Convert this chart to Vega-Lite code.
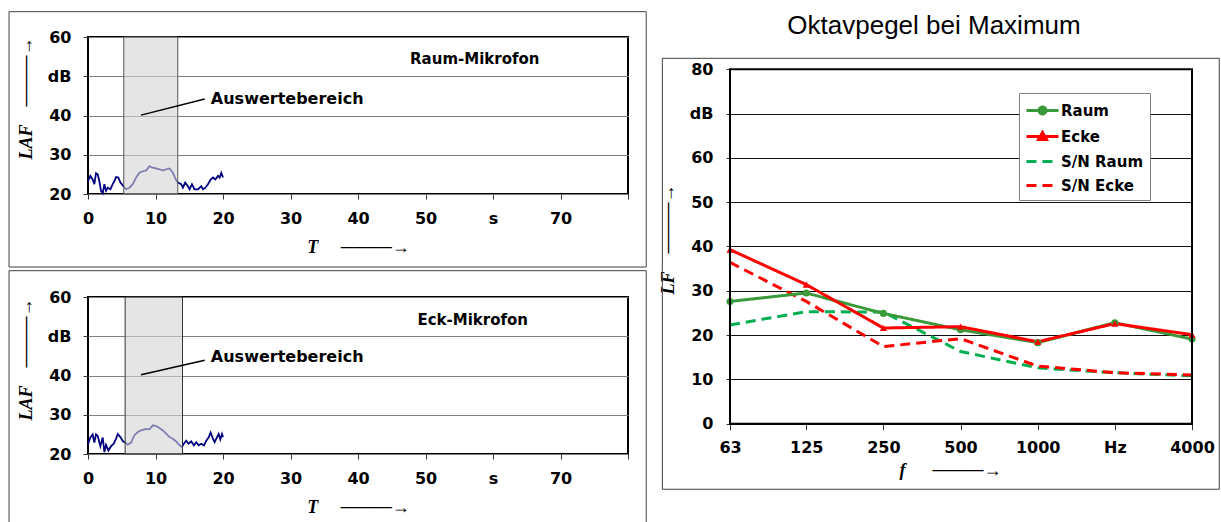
{
  "$schema": "https://vega.github.io/schema/vega-lite/v6.json",
  "background": "white",
  "padding": {"left": 7, "top": 10, "right": 0, "bottom": 0},
  "columns": 2,
  "align": "none",
  "spacing": 10,
  "datasets": {
    "raum": [
      {"T": 0, "L": 23.3}, {"T": 0.35, "L": 24.6}, {"T": 0.69, "L": 23.7}, {"T": 0.94, "L": 22.5}, {"T": 1.19, "L": 25.3},
      {"T": 1.44, "L": 25.0}, {"T": 1.68, "L": 23.3}, {"T": 1.93, "L": 20.8}, {"T": 2.18, "L": 20.2}, {"T": 2.43, "L": 22.5},
      {"T": 2.67, "L": 20.8}, {"T": 2.92, "L": 21.6}, {"T": 3.32, "L": 21.2}, {"T": 3.66, "L": 22.5}, {"T": 3.91, "L": 23.3},
      {"T": 4.16, "L": 24.3}, {"T": 4.5, "L": 24.2}, {"T": 4.8, "L": 22.9}, {"T": 5.15, "L": 22.2}, {"T": 5.4, "L": 21.6},
      {"T": 5.64, "L": 21.2}, {"T": 6.14, "L": 21.6}, {"T": 6.63, "L": 22.5}, {"T": 7.13, "L": 24.2}, {"T": 7.62, "L": 25.4},
      {"T": 8.12, "L": 25.8}, {"T": 8.61, "L": 26.0}, {"T": 9.11, "L": 27.1}, {"T": 9.6, "L": 26.7}, {"T": 10.1, "L": 26.5},
      {"T": 10.59, "L": 26.3}, {"T": 11.09, "L": 26.0}, {"T": 11.58, "L": 26.3}, {"T": 12.08, "L": 26.5}, {"T": 12.57, "L": 25.4},
      {"T": 13.07, "L": 23.5}, {"T": 13.32, "L": 22.9}, {"T": 13.81, "L": 22.5}, {"T": 14.06, "L": 21.6}, {"T": 14.4, "L": 22.9},
      {"T": 14.8, "L": 22.0}, {"T": 15.05, "L": 21.2}, {"T": 15.4, "L": 22.5}, {"T": 15.79, "L": 21.2}, {"T": 16.29, "L": 21.2},
      {"T": 16.78, "L": 22.0}, {"T": 17.03, "L": 21.2}, {"T": 17.38, "L": 21.6}, {"T": 17.77, "L": 22.5}, {"T": 18.17, "L": 23.7},
      {"T": 18.51, "L": 24.2}, {"T": 18.86, "L": 23.7}, {"T": 19.26, "L": 24.6}, {"T": 19.5, "L": 24.2}, {"T": 19.75, "L": 25.4},
      {"T": 20, "L": 24.2}
    ],
    "eck": [
      {"T": 0, "L": 22.5}, {"T": 0.35, "L": 24.2}, {"T": 0.69, "L": 25.0}, {"T": 0.94, "L": 22.9}, {"T": 1.19, "L": 25.0},
      {"T": 1.44, "L": 24.6}, {"T": 1.83, "L": 22.0}, {"T": 2.18, "L": 24.2}, {"T": 2.43, "L": 20.5}, {"T": 2.67, "L": 22.3},
      {"T": 3.02, "L": 20.9}, {"T": 3.42, "L": 22.0}, {"T": 3.81, "L": 22.6}, {"T": 4.16, "L": 23.9}, {"T": 4.41, "L": 25.1},
      {"T": 4.8, "L": 24.3}, {"T": 5.15, "L": 23.3}, {"T": 5.5, "L": 22.9}, {"T": 5.89, "L": 22.4}, {"T": 6.39, "L": 22.9},
      {"T": 6.88, "L": 24.8}, {"T": 7.38, "L": 25.6}, {"T": 7.87, "L": 26.0}, {"T": 8.61, "L": 26.4}, {"T": 9.11, "L": 26.3},
      {"T": 9.6, "L": 27.3}, {"T": 10.1, "L": 27.1}, {"T": 10.59, "L": 26.6}, {"T": 11.09, "L": 26.0}, {"T": 11.58, "L": 25.2},
      {"T": 12.08, "L": 24.3}, {"T": 12.57, "L": 23.9}, {"T": 13.07, "L": 23.2}, {"T": 13.56, "L": 22.2}, {"T": 13.91, "L": 21.8},
      {"T": 14.2, "L": 22.6}, {"T": 14.55, "L": 23.4}, {"T": 14.9, "L": 22.6}, {"T": 15.3, "L": 23.2}, {"T": 15.69, "L": 22.2},
      {"T": 16.04, "L": 23.0}, {"T": 16.39, "L": 22.2}, {"T": 16.78, "L": 22.6}, {"T": 17.18, "L": 22.2}, {"T": 17.52, "L": 23.4},
      {"T": 17.87, "L": 24.2}, {"T": 18.17, "L": 25.5}, {"T": 18.51, "L": 23.9}, {"T": 18.76, "L": 23.0}, {"T": 19.01, "L": 23.9},
      {"T": 19.36, "L": 25.1}, {"T": 19.6, "L": 23.7}, {"T": 19.85, "L": 25.1}, {"T": 20, "L": 24.3}
    ],
    "oct": [
      {"f": 63, "s": "Raum", "L": 27.6}, {"f": 125, "s": "Raum", "L": 29.5}, {"f": 250, "s": "Raum", "L": 24.9},
      {"f": 500, "s": "Raum", "L": 21.2}, {"f": 1000, "s": "Raum", "L": 18.3}, {"f": 2000, "s": "Raum", "L": 22.8},
      {"f": 4000, "s": "Raum", "L": 19.1},
      {"f": 63, "s": "Ecke", "L": 39.3}, {"f": 125, "s": "Ecke", "L": 31.4}, {"f": 250, "s": "Ecke", "L": 21.6},
      {"f": 500, "s": "Ecke", "L": 21.9}, {"f": 1000, "s": "Ecke", "L": 18.5}, {"f": 2000, "s": "Ecke", "L": 22.6},
      {"f": 4000, "s": "Ecke", "L": 20.1},
      {"f": 63, "s": "S/N Raum", "L": 22.3}, {"f": 125, "s": "S/N Raum", "L": 25.3}, {"f": 250, "s": "S/N Raum", "L": 25.2},
      {"f": 500, "s": "S/N Raum", "L": 16.3}, {"f": 1000, "s": "S/N Raum", "L": 12.6}, {"f": 2000, "s": "S/N Raum", "L": 11.5},
      {"f": 4000, "s": "S/N Raum", "L": 10.8},
      {"f": 63, "s": "S/N Ecke", "L": 36.4}, {"f": 125, "s": "S/N Ecke", "L": 27.6}, {"f": 250, "s": "S/N Ecke", "L": 17.4},
      {"f": 500, "s": "S/N Ecke", "L": 19.2}, {"f": 1000, "s": "S/N Ecke", "L": 13.0}, {"f": 2000, "s": "S/N Ecke", "L": 11.5},
      {"f": 4000, "s": "S/N Ecke", "L": 11.0}
    ]
  },
  "concat": [
    {
      "spacing": 0,
      "vconcat": [
        {
          "width": 540,
          "height": 157,
          "layer": [
            {
              "data": {"name": "raum"},
              "mark": {"type": "line", "color": "#000080", "strokeWidth": 1.8},
              "encoding": {
                "x": {"field": "T", "type": "quantitative", "scale": {"domain": [0, 80], "nice": false},
                  "axis": {"title": "T\u00a0\u00a0\u00a0\u00a0\u00a0────→", "values": [0, 10, 20, 30, 40, 50, 60, 70, 80],
                    "labelExpr": "datum.value==60?'s':datum.value==80?'':datum.label", "grid": false,
                    "tickSize": 5, "labelPadding": 11, "titlePadding": 12}},
                "y": {"field": "L", "type": "quantitative", "scale": {"domain": [20, 60], "nice": false},
                  "axis": {"title": "LAF\u00a0\u00a0\u00a0\u00a0────→", "values": [20, 30, 40, 50, 60], "tickCount": 5,
                    "labelExpr": "datum.value==50?'dB':datum.label", "grid": true, "gridColor": "#808080",
                    "tickSize": 5, "labelPadding": 12, "titlePadding": 12, "titleY": 61}}
              }
            },
            {
              "data": {"values": [{}]},
              "mark": {"type": "rect", "fill": "transparent", "stroke": "#404040", "strokeWidth": 1, "clip": false},
              "encoding": {
                "x": {"datum": -11.7, "scale": {"domain": [0, 80], "nice": false}}, "x2": {"datum": 82.7},
                "y": {"datum": 66.45, "scale": {"domain": [20, 60], "nice": false}}, "y2": {"datum": 1.4}}
            },
            {
              "data": {"values": [{}]},
              "mark": {"type": "rect", "fill": "#d4d4d4", "fillOpacity": 0.6, "stroke": "#555555", "strokeWidth": 1},
              "encoding": {
                "x": {"datum": 5.3, "scale": {"domain": [0, 80], "nice": false}}, "x2": {"datum": 13.3},
                "y": {"datum": 20, "scale": {"domain": [20, 60], "nice": false}}, "y2": {"datum": 60}}
            },
            {
              "data": {"values": [{}]},
              "mark": {"type": "rule", "color": "black", "strokeWidth": 1.5},
              "encoding": {
                "x": {"datum": 7.85, "scale": {"domain": [0, 80], "nice": false}}, "x2": {"datum": 17.3},
                "y": {"datum": 40.1, "scale": {"domain": [20, 60], "nice": false}}, "y2": {"datum": 44.2}}
            },
            {
              "data": {"values": [{}]},
              "mark": {"type": "text", "align": "left", "baseline": "middle", "font": "DejaVu Sans", "fontWeight": "bold", "fontSize": 16, "color": "black"},
              "encoding": {
                "x": {"datum": 18.2, "scale": {"domain": [0, 80], "nice": false}},
                "y": {"datum": 44.2, "scale": {"domain": [20, 60], "nice": false}},
                "text": {"value": "Auswertebereich"}}
            },
            {
              "data": {"values": [{}]},
              "mark": {"type": "text", "align": "center", "baseline": "middle", "font": "DejaVu Sans", "fontWeight": "bold", "fontSize": 15, "color": "black"},
              "encoding": {
                "x": {"datum": 57.3, "scale": {"domain": [0, 80], "nice": false}},
                "y": {"datum": 54.5, "scale": {"domain": [20, 60], "nice": false}},
                "text": {"value": "Raum-Mikrofon"}}
            }
          ]
        },
        {
          "width": 540,
          "height": 157,
          "layer": [
            {
              "data": {"name": "eck"},
              "mark": {"type": "line", "color": "#000080", "strokeWidth": 1.8},
              "encoding": {
                "x": {"field": "T", "type": "quantitative", "scale": {"domain": [0, 80], "nice": false},
                  "axis": {"title": "T\u00a0\u00a0\u00a0\u00a0\u00a0────→", "values": [0, 10, 20, 30, 40, 50, 60, 70, 80],
                    "labelExpr": "datum.value==60?'s':datum.value==80?'':datum.label", "grid": false,
                    "tickSize": 5, "labelPadding": 11, "titlePadding": 12}},
                "y": {"field": "L", "type": "quantitative", "scale": {"domain": [20, 60], "nice": false},
                  "axis": {"title": "LAF\u00a0\u00a0\u00a0\u00a0────→", "values": [20, 30, 40, 50, 60], "tickCount": 5,
                    "labelExpr": "datum.value==50?'dB':datum.label", "grid": true, "gridColor": "#808080",
                    "tickSize": 5, "labelPadding": 12, "titlePadding": 12, "titleY": 62}}
              }
            },
            {
              "data": {"values": [{}]},
              "mark": {"type": "rect", "fill": "transparent", "stroke": "#404040", "strokeWidth": 1, "clip": false},
              "encoding": {
                "x": {"datum": -11.7, "scale": {"domain": [0, 80], "nice": false}}, "x2": {"datum": 82.7},
                "y": {"datum": 66.7, "scale": {"domain": [20, 60], "nice": false}}, "y2": {"datum": 1.4}}
            },
            {
              "data": {"values": [{}]},
              "mark": {"type": "rect", "fill": "#d4d4d4", "fillOpacity": 0.6, "stroke": "#333333", "strokeWidth": 1},
              "encoding": {
                "x": {"datum": 5.5, "scale": {"domain": [0, 80], "nice": false}}, "x2": {"datum": 14.0},
                "y": {"datum": 20, "scale": {"domain": [20, 60], "nice": false}}, "y2": {"datum": 60}}
            },
            {
              "data": {"values": [{}]},
              "mark": {"type": "rule", "color": "black", "strokeWidth": 1.5},
              "encoding": {
                "x": {"datum": 7.85, "scale": {"domain": [0, 80], "nice": false}}, "x2": {"datum": 17.3},
                "y": {"datum": 40.2, "scale": {"domain": [20, 60], "nice": false}}, "y2": {"datum": 43.9}}
            },
            {
              "data": {"values": [{}]},
              "mark": {"type": "text", "align": "left", "baseline": "middle", "font": "DejaVu Sans", "fontWeight": "bold", "fontSize": 16, "color": "black"},
              "encoding": {
                "x": {"datum": 18.2, "scale": {"domain": [0, 80], "nice": false}},
                "y": {"datum": 44.7, "scale": {"domain": [20, 60], "nice": false}},
                "text": {"value": "Auswertebereich"}}
            },
            {
              "data": {"values": [{}]},
              "mark": {"type": "text", "align": "center", "baseline": "middle", "font": "DejaVu Sans", "fontWeight": "bold", "fontSize": 15, "color": "black"},
              "encoding": {
                "x": {"datum": 57.0, "scale": {"domain": [0, 80], "nice": false}},
                "y": {"datum": 54.1, "scale": {"domain": [20, 60], "nice": false}},
                "text": {"value": "Eck-Mikrofon"}}
            }
          ]
        }
      ]
    },
    {
      "width": 462,
      "height": 386.7,
      "view": {"stroke": "transparent"},
      "title": {"text": "Oktavpegel bei Maximum", "font": "Liberation Sans", "fontSize": 26, "fontWeight": "normal",
        "color": "black", "anchor": "middle", "frame": "group", "offset": -2, "dx": -27},
      "layer": [
        {
          "data": {"name": "oct"},
          "transform": [{"filter": "indexof(datum.s, 'S/N') == 0"}],
          "mark": {"type": "line", "strokeWidth": 3},
          "encoding": {
            "x": {"field": "f", "type": "quantitative", "scale": {"type": "log", "domain": [63, 4000], "nice": false},
              "axis": {"title": "f\u00a0\u00a0\u00a0\u00a0\u00a0\u00a0────→", "values": [63, 125, 250, 500, 1000, 2000, 4000], "format": "d",
                "labelExpr": "datum.value==2000?'Hz':datum.label", "grid": false,
                "tickSize": 6, "labelPadding": 10, "titlePadding": 6, "titleX": 220}},
            "y": {"field": "L", "type": "quantitative", "scale": {"domain": [0, 87.29], "nice": false},
              "axis": {"title": "LF\u00a0\u00a0\u00a0\u00a0────→", "values": [0, 10, 20, 30, 40, 50, 60, 70, 80], "tickCount": 9,
                "labelExpr": "datum.value==70?'dB':datum.label", "grid": true, "gridColor": "#111111",
                "tickSize": 4, "labelPadding": 13, "titlePadding": 12, "titleY": 202}},
            "color": {"field": "s", "type": "nominal",
              "scale": {"domain": ["Raum", "Ecke", "S/N Raum", "S/N Ecke"], "range": ["#3A9A3A", "#FF0000", "#00B050", "#FF0000"]},
              "legend": {
                "title": null, "orient": "none", "legendX": 931, "legendY": 56,
                "fillColor": "white", "strokeColor": "#808080", "padding": 6,
                "labelFont": "DejaVu Sans", "labelFontWeight": "bold", "labelFontSize": 15, "labelColor": "black",
                "symbolSize": 400, "symbolStrokeWidth": 3, "rowPadding": 4, "labelOffset": 13,
                "encode": {"symbols": {"update": {
                  "shape": {"signal": "datum.value=='Raum' ? 'M-1,0H2.2M0.25,0A0.35,0.35,0,1,1,0.95,0A0.35,0.35,0,1,1,0.25,0Z' : datum.value=='Ecke' ? 'M-1,0H2.2M0.2,0.3L0.6,-0.4L1,0.3Z' : 'M-1,0H2.2'"},
                  "fill": {"signal": "datum.value=='Raum' ? '#3A9A3A' : datum.value=='Ecke' ? '#FF0000' : 'transparent'"}
                }}}
              }},
            "strokeDash": {"field": "s", "type": "nominal",
              "scale": {"domain": ["Raum", "Ecke", "S/N Raum", "S/N Ecke"], "range": [[1, 0], [1, 0], [10, 6], [10, 6]]}}
          }
        },
        {
          "data": {"values": [{}]},
          "mark": {"type": "rect", "fill": "transparent", "stroke": "#404040", "strokeWidth": 1, "clip": false},
          "encoding": {
            "x": {"datum": 34.3, "scale": {"type": "log", "domain": [63, 4000], "nice": false}}, "x2": {"datum": 5110},
            "y": {"datum": 82.48, "scale": {"domain": [0, 87.29], "nice": false}}, "y2": {"datum": -14.8}}
        },
        {
          "data": {"name": "oct"},
          "transform": [{"filter": "indexof(datum.s, 'S/N') != 0"}],
          "mark": {"type": "line", "strokeWidth": 3},
          "encoding": {
            "x": {"field": "f", "type": "quantitative"},
            "y": {"field": "L", "type": "quantitative"},
            "color": {"field": "s", "type": "nominal"},
            "strokeDash": {"field": "s", "type": "nominal"}
          }
        },
        {
          "data": {"name": "oct"},
          "transform": [{"filter": "indexof(datum.s, 'S/N') != 0"}],
          "mark": {"type": "point", "filled": true, "size": 50, "opacity": 1},
          "encoding": {
            "x": {"field": "f", "type": "quantitative"},
            "y": {"field": "L", "type": "quantitative"},
            "color": {"field": "s", "type": "nominal", "legend": null},
            "shape": {"field": "s", "type": "nominal", "legend": null,
              "scale": {"domain": ["Raum", "Ecke"], "range": ["circle", "triangle-up"]}}
          }
        },
        {
          "data": {"values": [{}]},
          "mark": {"type": "rect", "fill": "transparent", "stroke": "black", "strokeWidth": 2},
          "encoding": {
            "x": {"datum": 63, "scale": {"type": "log", "domain": [63, 4000], "nice": false}}, "x2": {"datum": 4000},
            "y": {"datum": 80, "scale": {"domain": [0, 87.29], "nice": false}}, "y2": {"datum": 0}}
        }
      ]
    }
  ],
  "config": {
    "view": {"stroke": "black", "strokeWidth": 2},
    "axis": {
      "labelFont": "DejaVu Sans", "labelFontWeight": "bold", "labelFontSize": 16, "labelColor": "black",
      "labelOverlap": false, "labelFlush": false, "tickColor": "#333333", "domain": false,
      "titleFont": "Liberation Serif, DejaVu Sans", "titleFontStyle": "italic", "titleFontWeight": "bold",
      "titleFontSize": 18, "titleColor": "black"
    }
  }
}
